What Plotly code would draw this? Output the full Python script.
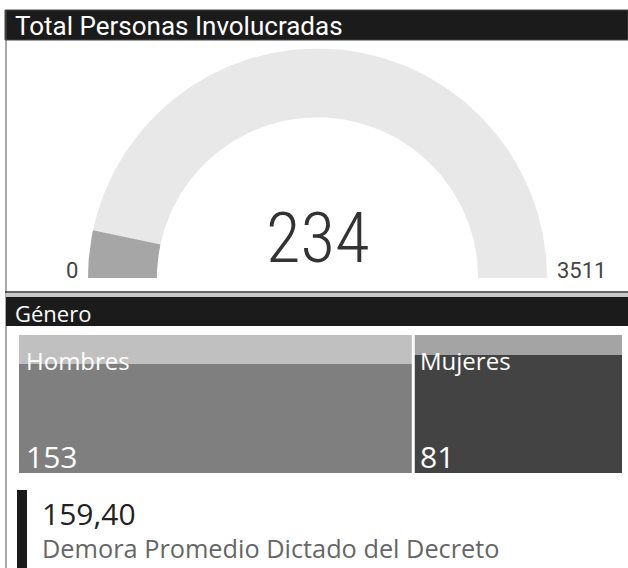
import numpy as np
import plotly.graph_objects as go

W, H = 628, 568

# --- data -------------------------------------------------------------------
gauge_title = "Total Personas Involucradas"
gauge_value = 234
gauge_min = 0
gauge_max = 3511

genero_title = "Género"
genero_labels = ["Hombres", "Mujeres"]
genero_values = [153, 81]

kpi_value = 159.40
kpi_label = "Demora Promedio Dictado del Decreto"

# --- style ------------------------------------------------------------------
DIN = "Roboto, sans-serif"
DIN_NARROW = "Roboto Condensed, Roboto, sans-serif"
SEGOE = "Segoe UI, Open Sans, sans-serif"
HEADER_BG = "#1b1b1b"
TRACK = "#e8e8e8"
FILL = "#a6a6a6"
BODY_COLORS = ["#7f7f7f", "#434343"]
BAND_COLORS = ["#c0c0c0", "#a4a4a4"]
BAND_H = [0.21, 0.145]
INNER = 0.70


def px(x):
    return x / W


def py(y):
    return 1 - y / H


def ring(t0, t1, n=160):
    th = np.linspace(t0, t1, n)
    xs = np.concatenate([np.cos(th), INNER * np.cos(th[::-1])])
    ys = np.concatenate([np.sin(th), INNER * np.sin(th[::-1])])
    return np.append(xs, xs[0]), np.append(ys, ys[0])


fig = go.Figure()

# gauge: track + value arc
frac = (gauge_value - gauge_min) / (gauge_max - gauge_min)
for (t0, t1), col in [((np.pi, 0), TRACK), ((np.pi, np.pi * (1 - frac)), FILL)]:
    xs, ys = ring(t0, t1)
    fig.add_trace(go.Scatter(x=xs, y=ys, mode="lines", fill="toself", fillcolor=col,
                             line=dict(width=0), hoverinfo="skip", xaxis="x", yaxis="y"))

# género tiles (bars whose widths are the counts)
vals = np.array(genero_values, dtype=float)
starts = np.concatenate([[0], np.cumsum(vals)[:-1]])
centers = starts + vals / 2
fig.add_trace(go.Bar(x=centers, y=[1] * len(vals), width=vals, marker=dict(color=BODY_COLORS, line=dict(width=0)),
                     hoverinfo="skip", xaxis="x2", yaxis="y2"))
fig.add_trace(go.Bar(x=centers, y=BAND_H, base=[1 - b for b in BAND_H], width=vals,
                     marker=dict(color=BAND_COLORS, line=dict(width=0)),
                     hoverinfo="skip", xaxis="x2", yaxis="y2"))

shapes = [
    dict(type="rect", xref="paper", yref="paper", x0=px(5), x1=1, y0=py(40), y1=py(10),
         fillcolor=HEADER_BG, line=dict(color="#444", width=1)),
    dict(type="line", xref="paper", yref="paper", x0=px(6), x1=px(6), y0=py(10), y1=0,
         line=dict(color="#555", width=1)),
    dict(type="line", xref="paper", yref="paper", x0=px(5), x1=1, y0=py(292), y1=py(292),
         line=dict(color="#333", width=1.5)),
    dict(type="rect", xref="paper", yref="paper", x0=px(6), x1=1, y0=py(297), y1=py(293),
         fillcolor="#c8c8c8", line=dict(width=0)),
    dict(type="rect", xref="paper", yref="paper", x0=px(6), x1=1, y0=py(326), y1=py(297),
         fillcolor=HEADER_BG, line=dict(width=0)),
    dict(type="rect", xref="paper", yref="paper", x0=px(17), x1=px(27), y0=0, y1=py(490),
         fillcolor=HEADER_BG, line=dict(width=0)),
]
for s in starts[1:]:
    shapes.append(dict(type="line", xref="x2", yref="y2 domain", x0=s, x1=s, y0=0, y1=1,
                       line=dict(color="white", width=3)))

ann = [
    dict(text=gauge_title, xref="paper", yref="paper", x=px(13), y=py(26), xanchor="left",
         yanchor="middle", font=dict(family=DIN, size=26, color="white")),
    dict(text=str(gauge_min), xref="x", yref="y", x=-1, y=0, xanchor="right", yanchor="middle",
         xshift=-8, yshift=7.5, font=dict(family=DIN, size=22, color="#444")),
    dict(text=str(gauge_max), xref="x", yref="y", x=1, y=0, xanchor="left", yanchor="middle",
         xshift=8, yshift=7.5, font=dict(family=DIN, size=22, color="#444")),
    dict(text=str(gauge_value), xref="x", yref="y", x=0, y=0, xanchor="center", yanchor="middle",
         yshift=40.5, font=dict(family=DIN_NARROW, size=71, color="#333", weight=300)),
    dict(text=genero_title, xref="paper", yref="paper", x=px(13), y=py(313), xanchor="left",
         yanchor="middle", font=dict(family=SEGOE, size=22, color="white")),
    dict(text=f"{kpi_value:.2f}".replace(".", ","), xref="paper", yref="paper", x=px(40),
         y=py(513.5), xanchor="left", yanchor="middle", font=dict(family=SEGOE, size=30, color="#222")),
    dict(text=kpi_label, xref="paper", yref="paper", x=px(40), y=py(547.5), xanchor="left",
         yanchor="middle", font=dict(family=SEGOE, size=25.3, color="#666")),
]
for lab, v, s in zip(genero_labels, genero_values, starts):
    ann.append(dict(text=lab, xref="x2", yref="paper", x=s, y=py(360), xanchor="left",
                    yanchor="middle", xshift=5, font=dict(family=SEGOE, size=24, color="white")))
    ann.append(dict(text=str(v), xref="x2", yref="paper", x=s, y=py(456), xanchor="left",
                    yanchor="middle", xshift=5, font=dict(family=SEGOE, size=30, color="white")))
for a in ann:
    a["showarrow"] = False

fig.update_layout(
    width=W, height=H, margin=dict(l=0, r=0, t=0, b=0),
    paper_bgcolor="white", plot_bgcolor="white", showlegend=False,
    barmode="overlay", bargap=0, shapes=shapes, annotations=ann,
    xaxis=dict(domain=[px(88), px(547)], range=[-1, 1], visible=False, fixedrange=True),
    yaxis=dict(domain=[py(278), py(48.5)], range=[0, 1], visible=False, fixedrange=True),
    xaxis2=dict(domain=[px(19), px(622)], range=[0, vals.sum()], visible=False, fixedrange=True),
    yaxis2=dict(domain=[py(473), py(335)], range=[0, 1], visible=False, fixedrange=True),
)
# page body has a default 8px margin; drop it so the figure sits at the window's corner
fig.write_html("out.html", config={"displayModeBar": False},
               post_script="document.body.style.margin='0';")
